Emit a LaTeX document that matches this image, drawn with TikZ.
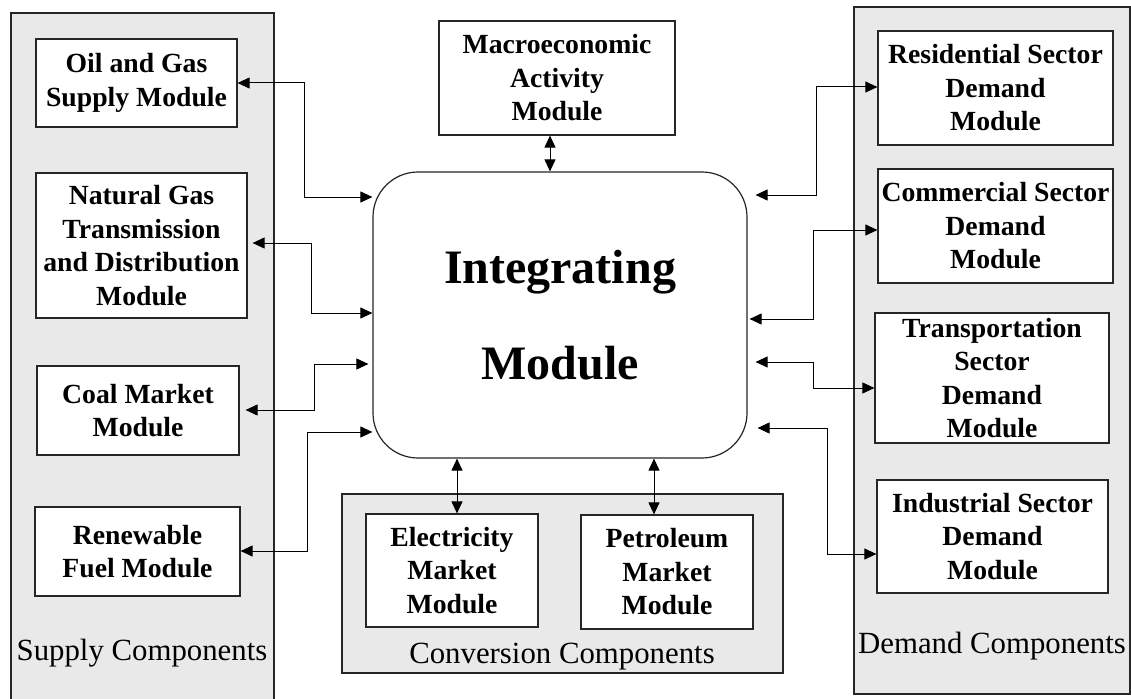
\documentclass[tikz,border=0pt]{standalone}
\usepackage{fontspec}
\setmainfont{Liberation Serif}
\usetikzlibrary{arrows.meta}
\definecolor{panelgray}{RGB}{233,233,233}
\begin{document}
\begin{tikzpicture}[x=1pt,y=-1pt,
  panel/.style={draw=black!85, line width=1.2pt, fill=panelgray},
  mod/.style={draw=black!85, line width=1.2pt, fill=white, inner sep=0pt,
    align=center, font=\bfseries\fontsize{27.7}{33.5}\selectfont},
  lab/.style={inner sep=0pt, font=\fontsize{30.8}{36}\selectfont},
  conn/.style={line width=1pt, {Triangle[length=12pt,width=11pt]}-{Triangle[length=12pt,width=11pt]}}]
\useasboundingbox (0,0) rectangle (1131,698);
% panels
\fill[white] (0,0) rectangle (1131,698);
\draw[panel] (11,13) rectangle (274,702);
\draw[panel] (854,7) rectangle (1130,694);
\draw[panel] (342,494) rectangle (783,673);
% labels
\node[lab, anchor=base] (supplab) at (142,660) {Supply Components};
\node[lab, anchor=base] (convlab) at (562,663) {Conversion Components};
\node[lab, anchor=base] (demlab) at (992,653) {Demand Components};
% modules
\node[mod, minimum width=201pt, minimum height=88pt] (oil) at (136.5,83) {Oil and Gas\\Supply Module};
\node[mod, minimum width=211pt, minimum height=145pt] (ngas) at (141.5,245.5) {Natural Gas\\Transmission\\and Distribution\\Module};
\node[mod, minimum width=202pt, minimum height=89pt] (coal) at (138,410.5) {Coal Market\\Module};
\node[mod, minimum width=205pt, minimum height=89pt] (renew) at (137.5,551.5) {Renewable\\Fuel Module};
\node[mod, minimum width=236pt, minimum height=114pt] (macro) at (557,78) {Macroeconomic\\Activity\\Module};
\node[mod, rounded corners=45pt, minimum width=374pt, minimum height=286pt,
  font=\bfseries\fontsize{48}{96}\selectfont] (integ) at (560,315) {Integrating\\Module};
\node[mod, minimum width=172pt, minimum height=113pt] (elec) at (452,570.5) {Electricity\\Market\\Module};
\node[mod, minimum width=172pt, minimum height=114pt] (petro) at (667,572) {Petroleum\\Market\\Module};
\node[mod, minimum width=235pt, minimum height=114pt] (resid) at (995.5,88) {Residential Sector\\Demand\\Module};
\node[mod, minimum width=235pt, minimum height=114pt] (comm) at (995.5,226) {Commercial Sector\\Demand\\Module};
\node[mod, minimum width=234pt, minimum height=130pt] (trans) at (992,378) {Transportation\\Sector\\Demand\\Module};
\node[mod, minimum width=231pt, minimum height=113pt] (indus) at (992.5,536.5) {Industrial Sector\\Demand\\Module};
% connectors, supply side
\draw[conn] (oil.east |- 0,83) -- (304,83) |- (integ.west |- 0,197);
\draw[conn, shorten <=5pt] (ngas.east |- 0,243) -- (311,243) |- (integ.west |- 0,313);
\draw[conn, shorten <=6pt, shorten >=4pt] (coal.east |- 0,410) -- (314,410) |- (integ.west |- 0,364);
\draw[conn] (renew.east |- 0,551) -- (307,551) |- (integ.west |- 0,432);
% vertical connectors
\draw[conn] (macro.south -| 550,0) -- (integ.north -| 550,0);
\draw[conn] (integ.south -| 457,0) -- (elec.north -| 457,0);
\draw[conn] (integ.south -| 654,0) -- (petro.north -| 654,0);
% connectors, demand side
\draw[conn, shorten >=8pt] (resid.west |- 0,87) -- (816,87) |- (integ.east |- 0,195);
\draw[conn, shorten >=2pt] (comm.west |- 0,230) -- (813,230) |- (integ.east |- 0,319);
\draw[conn, shorten >=8pt] (trans.west |- 0,388) -- (813,388) |- (integ.east |- 0,362);
\draw[conn, shorten >=10pt] (indus.west |- 0,554) -- (827,554) |- (integ.east |- 0,428);
\end{tikzpicture}
\end{document}
